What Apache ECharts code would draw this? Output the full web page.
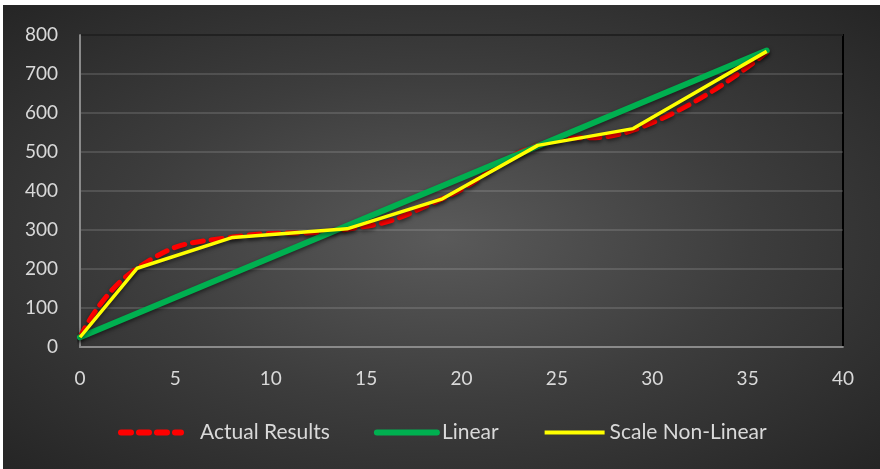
<!DOCTYPE html>
<html lang="en">
<head>
    <meta charset="UTF-8">
    <title>Results</title>
    <script src="https://cdn.jsdelivr.net/npm/echarts@6/dist/echarts.min.js"></script>
    <style>
        html, body { margin: 0; padding: 0; background: #fff; }
        #ec {
            position: absolute; left: 3px; top: 5px; width: 877px; height: 464px;
            background: radial-gradient(ellipse at 50% 50%, #5a5a5a 0%, #3d3d3d 50%, #252525 100%);
        }
    </style>
</head>
<body>
<div id="ec"></div>
<script>
    // data
    var xs = [0, 3, 8, 14, 19, 24, 29, 36];
    var actual = [25, 202, 282, 302, 380, 517, 556, 756];
    var scaleNonLinear = [25, 202, 281, 303, 380, 517, 560, 758];
    var linearX = [0, 36];
    var linear = [25, 760];
    var seriesNames = ['Actual Results', 'Linear', 'Scale Non-Linear'];

    function pairs(a, b) {
        var out = [];
        for (var i = 0; i < a.length; i++) out.push([a[i], b[i]]);
        return out;
    }

    var shadow = { shadowColor: 'rgba(0,0,0,0.55)', shadowBlur: 4, shadowOffsetY: 2 };
    var labelColor = '#d9d9d9';
    var red = '#ff0000', green = '#00b050', yellow = '#ffff00';

    var myChart = echarts.init(document.getElementById('ec'));
    myChart.setOption({
        animation: false,
        grid: {
            left: 77, right: 37, top: 30, bottom: 122,
            show: true, borderColor: '#000', borderWidth: 2, backgroundColor: 'transparent'
        },
        xAxis: {
            type: 'value', min: 0, max: 40, interval: 5,
            axisLine: { show: true, lineStyle: { color: '#8a8a8a', width: 2 } },
            axisTick: { show: false },
            splitLine: { show: false },
            axisLabel: { color: labelColor, fontSize: 19, fontFamily: 'Lato', margin: 22 }
        },
        yAxis: {
            type: 'value', min: 0, max: 800, interval: 100,
            axisLine: { show: true, lineStyle: { color: '#8a8a8a', width: 2 } },
            axisTick: { show: false },
            splitLine: { lineStyle: { color: 'rgba(255,255,255,0.13)', width: 2 } },
            axisLabel: { color: labelColor, fontSize: 19, fontFamily: 'Lato', margin: 22 }
        },
        legend: {
            bottom: 21, left: 110, itemWidth: 60, itemHeight: 12, itemGap: 44,
            textStyle: { color: labelColor, fontSize: 21, fontFamily: 'Lato' },
            data: [
                { name: seriesNames[0], itemStyle: { opacity: 0 },
                  lineStyle: { color: red, width: 6, type: [10, 8], cap: 'round' },
                  textStyle: { padding: [0, 0, 0, 14] } },
                { name: seriesNames[1], itemStyle: { opacity: 0 },
                  lineStyle: { color: green, width: 6, cap: 'round' } },
                { name: seriesNames[2], itemStyle: { opacity: 0 },
                  lineStyle: { color: yellow, width: 4 } }
            ]
        },
        series: [
            {
                name: seriesNames[0], type: 'line', symbol: 'none', smooth: 0.5,
                data: pairs(xs, actual),
                itemStyle: { color: red },
                lineStyle: Object.assign({ color: red, width: 5, type: [11, 8], cap: 'round' }, shadow)
            },
            {
                name: seriesNames[1], type: 'line', symbol: 'none',
                data: pairs(linearX, linear),
                itemStyle: { color: green },
                lineStyle: Object.assign({ color: green, width: 6, cap: 'round' }, shadow)
            },
            {
                name: seriesNames[2], type: 'line', symbol: 'none',
                data: pairs(xs, scaleNonLinear),
                itemStyle: { color: yellow },
                lineStyle: Object.assign({ color: yellow, width: 3.5 }, shadow)
            }
        ]
    });
</script>
</body>
</html>
